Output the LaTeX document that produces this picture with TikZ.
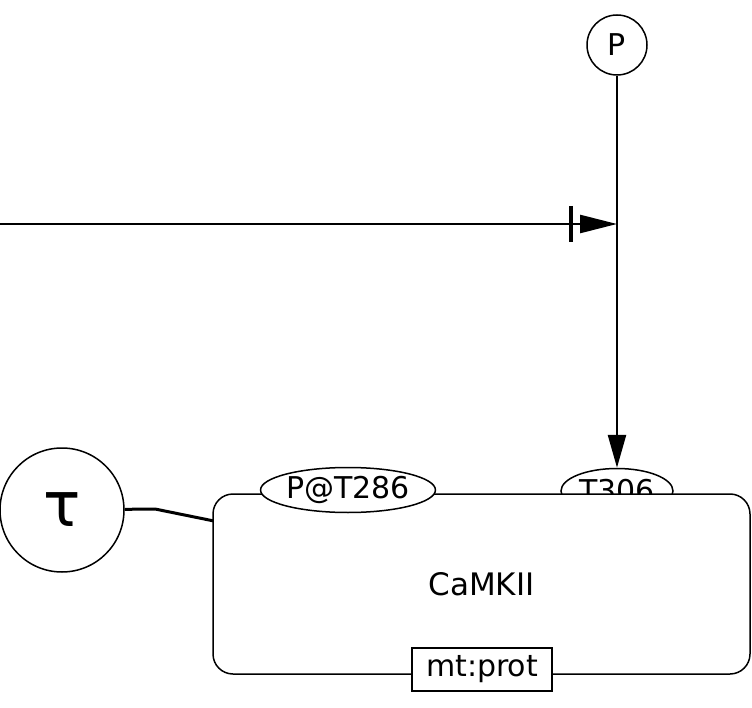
\documentclass[tikz,border=0pt]{standalone}
\usepackage{fontspec}
\setmainfont{DejaVu Sans}
\usepackage{tikz}
\usetikzlibrary{arrows.meta,shapes.geometric}
\newcommand{\lbl}{\fontsize{30}{36}\selectfont}

\begin{document}
\begin{tikzpicture}[x=1pt,y=-1pt,
  site/.style={ellipse,draw,line width=1.5pt,fill=white,inner sep=0pt,minimum width=#1,minimum height=45pt,font=\lbl},
  flow/.style={line width=2.6pt}]
\useasboundingbox (0,0) rectangle (752,708);
\node[circle,draw,line width=1.5pt,minimum size=60pt,inner sep=0pt,font=\lbl] (p) at (617,45) {P};
\node[circle,draw,line width=1.5pt,minimum size=124pt,inner sep=0pt,font=\fontsize{62}{70}\selectfont] (tau) at (62,510) {τ};
\node[site=112pt] (t306) at (617,491) {T306};
\coordinate (src) at (0,224);
\coordinate (jn) at (617,224);
\coordinate (bend) at (155,509);
\coordinate (dock) at (214,521);
\draw[flow,-{Triangle[length=33pt,width=18pt]}] (p) -- (t306.north);
\draw[flow,-{Bar[width=36pt,line width=3.8pt,sep=7pt] Triangle[length=37pt,width=18pt]}] (src) -- (jn);
\draw[flow,line width=3pt] (tau) -- (bend) -- (dock);
\node[draw,line width=1.5pt,fill=white,rounded corners=20pt,minimum width=537pt,minimum height=180pt,font=\fontsize{31}{37}\selectfont] (camk) at (481.5,584) {CaMKII};
\node[site=167pt] (pt286) at (348,490) {P@T286};
\node[draw,line width=1.5pt,fill=white,minimum width=140pt,minimum height=43pt,inner sep=0pt,font=\lbl] (mt) at (482,669.5) {mt:prot};
\end{tikzpicture}
\end{document}
